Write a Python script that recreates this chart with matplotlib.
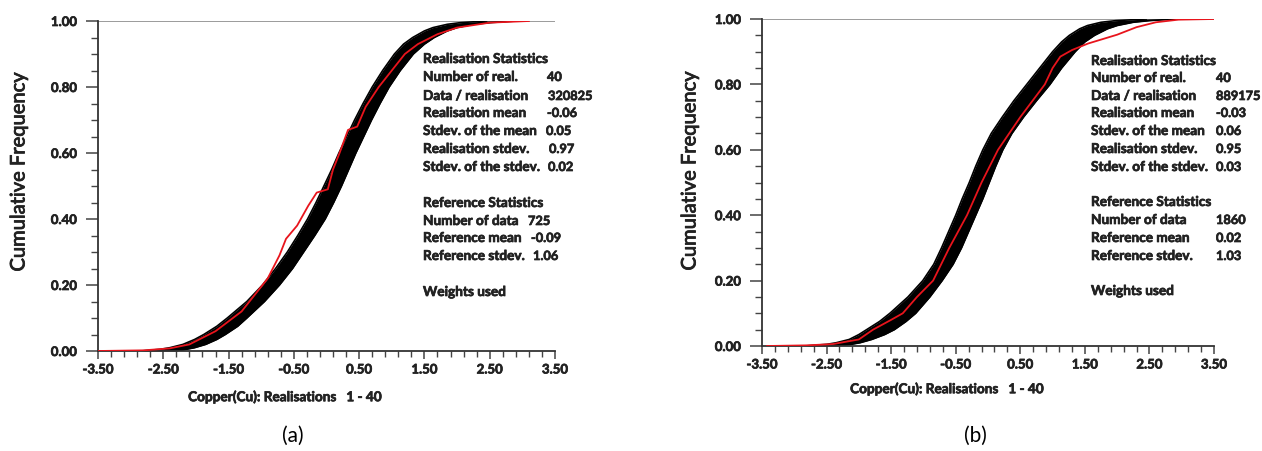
import matplotlib.pyplot as plt
import matplotlib.patheffects as pe
import numpy as np

plt.rcParams['font.family'] = ['Lato', 'DejaVu Sans']

# cumulative frequency levels where the realisation band edges were read
band_y = [0.0, 0.005, 0.01, 0.02, 0.035, 0.05, 0.075, 0.10, 0.15, 0.20, 0.25, 0.30,
          0.35, 0.40, 0.45, 0.50, 0.55, 0.60, 0.65, 0.70, 0.75, 0.80, 0.85, 0.90,
          0.93, 0.95, 0.97, 0.98, 0.99, 0.995, 1.0]

# (a) realisation band: left and right edge of the 40 curves
band_a_lo = [-2.85, -2.55, -2.40, -2.20, -2.02, -1.88, -1.68, -1.52, -1.22, -0.98,
             -0.78, -0.60, -0.44, -0.29, -0.16, -0.04, 0.08, 0.19, 0.31, 0.43,
             0.56, 0.70, 0.86, 1.04, 1.18, 1.32, 1.50, 1.63, 1.85, 2.05, 2.45]
band_a_hi = [-2.30, -2.15, -2.02, -1.85, -1.68, -1.55, -1.36, -1.22, -0.95, -0.72,
             -0.52, -0.35, -0.18, -0.02, 0.11, 0.23, 0.34, 0.45, 0.57, 0.69,
             0.82, 0.96, 1.13, 1.33, 1.50, 1.65, 1.85, 2.00, 2.25, 2.50, 2.90]

# (b) realisation band
band_b_lo = [-2.85, -2.50, -2.35, -2.15, -2.00, -1.88, -1.68, -1.52, -1.24, -1.01,
             -0.84, -0.72, -0.61, -0.50, -0.40, -0.29, -0.19, -0.08, 0.05, 0.22,
             0.40, 0.60, 0.80, 1.00, 1.14, 1.26, 1.42, 1.54, 1.75, 1.98, 2.45]
band_b_hi = [-2.35, -2.12, -1.98, -1.80, -1.60, -1.45, -1.27, -1.12, -0.90, -0.71,
             -0.54, -0.41, -0.30, -0.19, -0.08, 0.02, 0.12, 0.23, 0.37, 0.55,
             0.75, 0.96, 1.14, 1.35, 1.50, 1.65, 1.85, 2.00, 2.25, 2.50, 2.90]

# reference (declustered data) cdf, red curve
ref_a_x = [-3.5, -2.8, -2.4, -2.1, -1.9, -1.7, -1.5, -1.3, -1.1, -0.9, -0.72, -0.62,
           -0.45, -0.28, -0.15, 0.02, 0.1, 0.2, 0.33, 0.47, 0.6, 0.8, 1.0, 1.2,
           1.4, 1.7, 2.0, 2.5, 3.1]
ref_a_y = [0.0, 0.002, 0.008, 0.02, 0.04, 0.06, 0.09, 0.12, 0.17, 0.22, 0.29, 0.34,
           0.38, 0.44, 0.48, 0.49, 0.55, 0.60, 0.67, 0.68, 0.74, 0.80, 0.85, 0.90,
           0.93, 0.96, 0.98, 0.995, 1.0]

ref_b_x = [-3.42, -2.8, -2.4, -2.0, -1.78, -1.5, -1.32, -1.1, -0.85, -0.6, -0.325,
           -0.1, 0.155, 0.5, 0.88, 1.0, 1.12, 1.3, 1.55, 2.0, 2.3, 2.6, 2.95, 3.5]
ref_b_y = [0.0, 0.002, 0.006, 0.02, 0.05, 0.08, 0.10, 0.15, 0.20, 0.30, 0.40,
           0.50, 0.60, 0.70, 0.80, 0.85, 0.885, 0.905, 0.925, 0.952, 0.975, 0.99,
           0.998, 1.0]

stat_labels = ['Realisation Statistics', 'Number of real.', 'Data / realisation',
               'Realisation mean', 'Stdev. of the mean', 'Realisation stdev.',
               'Stdev. of the stdev.', 'Reference Statistics', 'Number of data',
               'Reference mean', 'Reference stdev.', 'Weights used']
stats_a = ['', '40', '320825', '-0.06', '0.05', '0.97', '0.02', '', '725', '-0.09', '1.06', '']
stats_b = ['', '40', '889175', '-0.03', '0.06', '0.95', '0.03', '', '1860', '0.02', '1.03', '']

W, H = 1262, 452
fig = plt.figure(figsize=(W / 100, H / 100), dpi=100)
heavy = [pe.withStroke(linewidth=0.5, foreground='#222222')]
ink = '#222222'


def px(x, y):
    return x / W, 1 - y / H


def setup(ax):
    ax.set_xlim(-3.5, 3.5)
    ax.set_ylim(0, 1)
    ax.spines['top'].set_visible(False)
    ax.spines['right'].set_visible(False)
    for s in ['left', 'bottom']:
        ax.spines[s].set_linewidth(1.3)
        ax.spines[s].set_color('#333333')
    ax.axhline(1.0, color='#8a8a8a', lw=1.2, zorder=1)
    ax.set_xticks(np.arange(-3.5, 3.51, 1.0))
    ax.set_xticks(np.arange(-3.5, 3.51, 0.2), minor=True)
    ax.set_yticks(np.arange(0, 1.01, 0.2))
    ax.set_yticks(np.arange(0, 1.01, 0.05), minor=True)
    ax.set_xticklabels(['%.2f' % v for v in np.arange(-3.5, 3.51, 1.0)])
    ax.set_yticklabels(['%.2f' % v for v in np.arange(0, 1.01, 0.2)])
    ax.tick_params(axis='y', which='major', length=9, width=1.1, color='#444444', pad=6,
                   labelsize=9.5)
    ax.tick_params(axis='y', which='minor', length=5, width=1.0, color='#444444')
    ax.tick_params(axis='x', which='major', length=6, width=1.1, color='#444444', pad=3,
                   labelsize=9.5)
    ax.tick_params(axis='x', which='minor', length=4, width=1.0, color='#444444')
    for lab in ax.get_xticklabels() + ax.get_yticklabels():
        lab.set_fontweight('bold')
        lab.set_color(ink)
        lab.set_path_effects(heavy)


def panel(rect, lo, hi, rx, ry):
    ax = fig.add_axes(rect)
    setup(ax)
    ax.fill_betweenx(band_y, lo, hi, color='black', lw=0, zorder=2)
    ax.plot(lo, band_y, color='black', lw=1.2, zorder=2)
    ax.plot(hi, band_y, color='black', lw=1.2, zorder=2)
    ax.plot(rx, ry, color='#e8141c', lw=1.3, zorder=3)
    return ax


ax_a = panel([98 / W, 1 - 352 / H, 457 / W, 330 / H], band_a_lo, band_a_hi, ref_a_x, ref_a_y)
ax_b = panel([762 / W, 1 - 347 / H, 452 / W, 327 / H], band_b_lo, band_b_hi, ref_b_x, ref_b_y)

# axis titles
for x, y in [(19, 173), (690, 172)]:
    fig.text(*px(x, y), 'Cumulative Frequency', rotation=90, ha='center', va='center',
             fontsize=14.5, color=ink, path_effects=[pe.withStroke(linewidth=0.6, foreground=ink)])
for x, y in [(285, 398), (947, 390)]:
    fig.text(*px(x, y), 'Copper(Cu): Realisations   1 - 40', ha='center', va='center',
             fontsize=9.8, fontweight='bold', color=ink, path_effects=heavy)

# captions
fig.text(*px(293, 436), '(a)', ha='center', va='center', fontsize=15)
fig.text(*px(975, 436), '(b)', ha='center', va='center', fontsize=15)

# statistics blocks
rows_a = [60, 78, 97, 114, 132, 150, 168, 204, 222, 239, 257, 293]
vals_a_x = [0, 547, 548, 547, 546, 549, 548, 0, 528, 531, 533, 0]
rows_b = [62, 79, 97, 114, 132, 150, 168, 203, 221, 239, 257, 292]
for i, lab in enumerate(stat_labels):
    fig.text(*px(423, rows_a[i]), lab, ha='left', va='center', fontsize=9.8,
             fontweight='bold', color=ink, path_effects=heavy)
    if stats_a[i]:
        fig.text(*px(vals_a_x[i], rows_a[i]), stats_a[i], ha='left', va='center',
                 fontsize=9.2, fontweight='bold', color=ink, path_effects=heavy)
    fig.text(*px(1091, rows_b[i]), lab, ha='left', va='center', fontsize=9.8,
             fontweight='bold', color=ink, path_effects=heavy)
    if stats_b[i]:
        fig.text(*px(1216, rows_b[i]), stats_b[i], ha='left', va='center',
                 fontsize=9.2, fontweight='bold', color=ink, path_effects=heavy)

plt.savefig('out.png', dpi=100)
